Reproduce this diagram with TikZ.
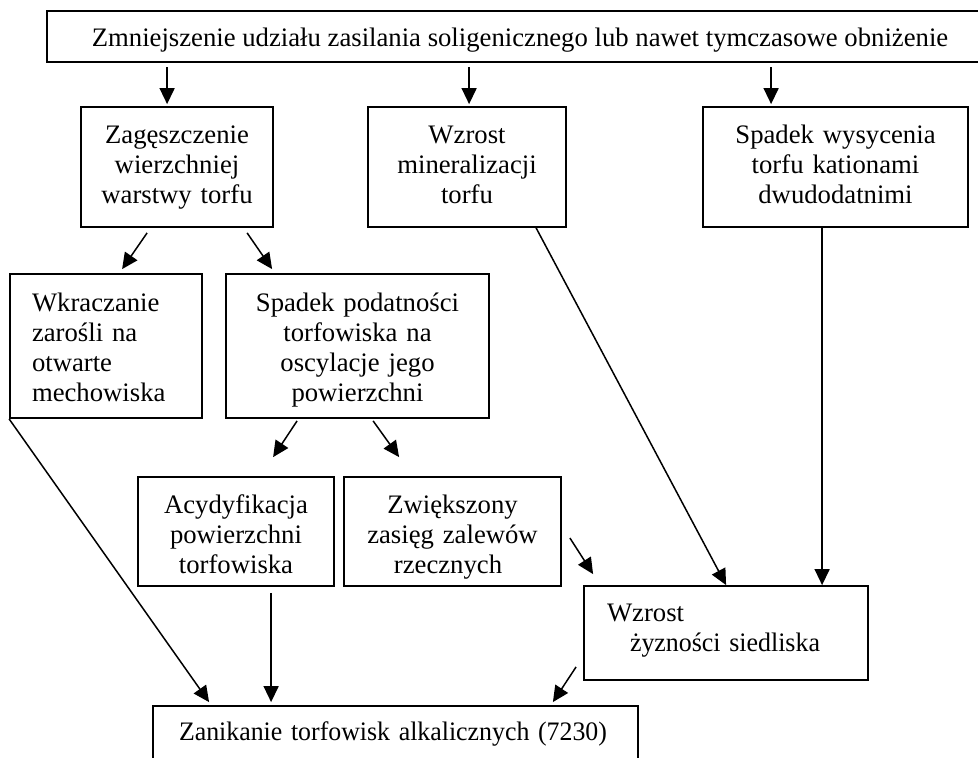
\documentclass[tikz,border=0pt]{standalone}
\usepackage{fontspec}
\setmainfont{Liberation Serif}
\usetikzlibrary{arrows.meta,calc}
\newcommand\fsz{\fontsize{26.7pt}{30pt}\selectfont}
\newcommand\tst[1]{\rule{0pt}{#1}}
\newcommand\bst[1]{\rule[-#1]{0pt}{#1}}
\tikzset{
  box/.style={draw, rectangle, line width=1.8pt, inner sep=0pt, font=\fsz},
  arr/.style={line width=1.5pt, -{Triangle[length=16pt,width=15pt]}},
  ln/.style={line width=1.5pt}
}
\begin{document}
\begin{tikzpicture}[x=1pt,y=-1pt]
\useasboundingbox (0,0) rectangle (978,758);
\fill[white] (0,0) rectangle (978,758);
\clip (0,0) rectangle (978,758);

% boxes
\node[box, minimum width=946pt, minimum height=51pt] (top) at (520,36.5)
  {\tst{28pt}Zmniejszenie udziału zasilania soligenicznego lub nawet tymczasowe obniżenie\bst{9pt}};
\node[box, minimum width=192pt, minimum height=120pt, text width=192pt, align=center] (zag) at (177,167)
  {\tst{21pt}Zagęszczenie\\wierzchniej\\warstwy torfu\bst{9pt}};
\node[box, minimum width=198pt, minimum height=120pt, text width=198pt, align=center] (wmin) at (467,167)
  {\tst{21pt}Wzrost\\mineralizacji\\torfu\bst{9pt}};
\node[box, minimum width=265pt, minimum height=120pt, text width=265pt, align=center] (swys) at (835.5,167)
  {\tst{21pt}Spadek wysycenia\\torfu kationami\\dwudodatnimi\bst{9pt}};
\node[box, minimum width=192pt, minimum height=144pt, text width=148pt, inner xsep=22pt, align=left] (wkr) at (106,346)
  {\tst{29pt}Wkraczanie\\zarośli na\\otwarte\\mechowiska\bst{9pt}};
\node[box, minimum width=263pt, minimum height=144pt, text width=263pt, align=center] (spod) at (357.5,346)
  {\tst{29pt}Spadek podatności\\torfowiska na\\oscylacje jego\\powierzchni\bst{9pt}};
\node[box, minimum width=196pt, minimum height=109pt, text width=196pt, align=center] (acyd) at (236,531.5)
  {\tst{32pt}Acydyfikacja\\powierzchni\\torfowiska\bst{9pt}};
\node[box, minimum width=217pt, minimum height=109pt, text width=217pt, align=center] (zwi) at (452.5,531.5)
  {\tst{32pt}Zwiększony\hspace*{9pt}\\zasięg zalewów\hspace*{9pt}\\rzecznych\hspace*{9pt}\bst{9pt}};
\node[box, minimum width=284pt, minimum height=94pt, text width=238pt, inner xsep=23pt, align=left] (wzyz) at (726,633)
  {\tst{21pt}Wzrost\\\hspace*{23pt}\resizebox{190pt}{\height}{żyzności siedliska}\bst{15pt}};
\node[box, minimum width=485pt, minimum height=84pt, text width=485pt, align=left] (zan) at (395.5,748)
  {\tst{21pt}\hspace*{26pt}\resizebox{428pt}{\height}{Zanikanie torfowisk alkalicznych (7230)}\bst{37pt}};

% arrows from top box
\draw[arr] ($(top.south west)+(121,4.5)$) -- ($(zag.north west)+(87,-2)$);
\draw[arr] ($(top.south west)+(423,4.5)$) -- ($(wmin.north west)+(102,-2)$);
\draw[arr] ($(top.south west)+(725,4.5)$) -- ($(swys.north west)+(69,-2)$);

% from Zageszczenie
\draw[arr] ($(zag.south west)+(67,5)$) -- ($(wkr.north west)+(113,-4)$);
\draw[arr] ($(zag.south west)+(167,5)$) -- ($(spod.north west)+(47,-4)$);

% from Spadek podatnosci
\draw[arr] ($(spod.south west)+(72,2)$) -- ($(acyd.north west)+(136,-19)$);
\draw[arr] ($(spod.south west)+(148,2)$) -- ($(zwi.north west)+(56,-19)$);

% to Wzrost zyznosci
\draw[arr] ($(zwi.east)+(8,6.5)$) -- ($(wzyz.north west)+(10,-11)$);
\draw[arr] ($(wmin.south west)+(169,0)$) -- ($(wzyz.north west)+(143,0)$);
\draw[arr] ($(swys.south west)+(120,0)$) -- ($(wzyz.north west)+(239,0)$);

% to Zanikanie
\draw[arr] (wkr.south west) -- ($(zan.north west)+(57,-3)$);
\draw[arr] ($(acyd.south west)+(134,6)$) -- ($(zan.north west)+(119,-3)$);
\draw[arr] ($(wzyz.south west)+(-7,-14)$) -- ($(zan.north east)+(-86,-3)$);
\end{tikzpicture}
\end{document}
